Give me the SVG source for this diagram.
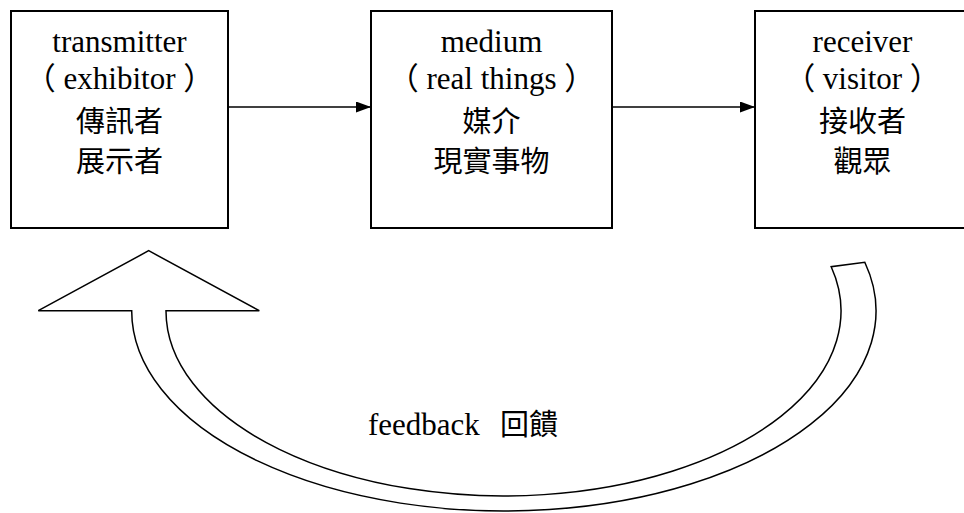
<svg xmlns="http://www.w3.org/2000/svg" width="964" height="513" viewBox="0 0 964 513">
<style>
.box{fill:#fff;stroke:#000;stroke-width:2}
.t{font-family:'Liberation Serif','Noto Sans CJK TC',serif;font-size:31px;fill:#000;text-anchor:middle}
.c{font-family:'Noto Sans CJK TC','Liberation Serif',sans-serif;font-size:29px;fill:#000;text-anchor:middle}
.conn{stroke:#000;stroke-width:1.5;fill:none}
</style>
<defs>
<marker id="ah" markerWidth="16" markerHeight="12" refX="15" refY="5.5" orient="auto" markerUnits="userSpaceOnUse">
<path d="M0,0 L15,5.5 L0,11 Z" fill="#000"/>
</marker>
</defs>
<rect width="964" height="513" fill="#fff"/>
<g id="transmitter">
<rect class="box" x="11" y="11" width="217" height="217"/>
<text class="t" x="119.5" y="52">transmitter</text>
<text class="t" x="119.5" y="89" xml:space="preserve">（ exhibitor ）</text>
<text class="c" x="119.5" y="132">傳訊者</text>
<text class="c" x="119.5" y="172">展示者</text>
</g>
<g id="medium">
<rect class="box" x="371" y="11" width="241" height="217"/>
<text class="t" x="491.5" y="52">medium</text>
<text class="t" x="491.5" y="89" xml:space="preserve">（ real things ）</text>
<text class="c" x="491.5" y="132">媒介</text>
<text class="c" x="491.5" y="172">現實事物</text>
</g>
<g id="receiver">
<rect class="box" x="755" y="11" width="215" height="217"/>
<text class="t" x="862.5" y="52">receiver</text>
<text class="t" x="862.5" y="89" xml:space="preserve">（ visitor ）</text>
<text class="c" x="862.5" y="132">接收者</text>
<text class="c" x="862.5" y="172">觀眾</text>
</g>
<g id="connectors">
<line class="conn" x1="228" y1="107" x2="371" y2="107" marker-end="url(#ah)"/>
<line class="conn" x1="612" y1="107" x2="755" y2="107" marker-end="url(#ah)"/>
</g>
<g id="feedback">
<path d="M148.7,250.7 L259.3,310.7 L166,310.7 A337.5,185 0 1 0 831.2,266.7 L864.8,262.3 A372.15,200 0 1 1 131.7,310.7 L38.3,310.7 Z" fill="#fff" stroke="#000" stroke-width="1.5" stroke-linejoin="miter"/>
<text x="368" y="435" style="font-family:'Liberation Serif',serif;font-size:31px">feedback <tspan x="500" style="font-family:'Noto Sans CJK TC',sans-serif;font-size:29px">回饋</tspan></text>
</g>
</svg>
